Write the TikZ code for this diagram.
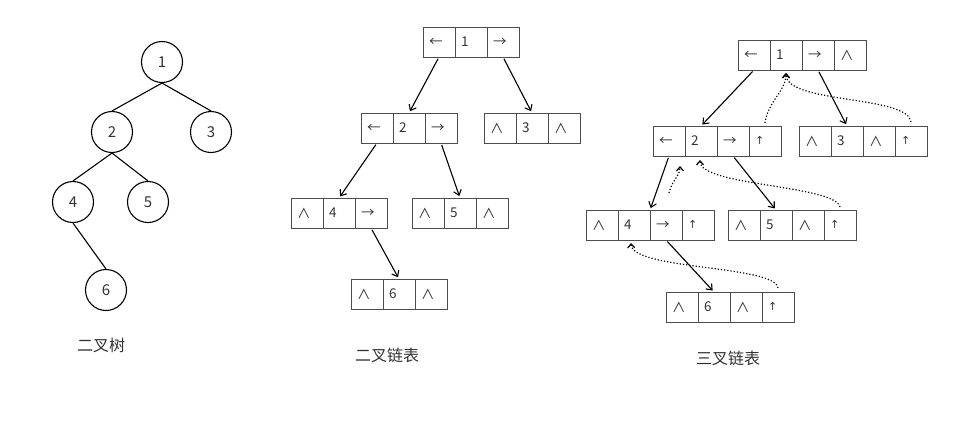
\documentclass[tikz,border=0pt]{standalone}
\usepackage{fontspec}
\setmainfont{Noto Sans CJK SC}
\newfontfamily\symfont{DejaVu Sans}
\usetikzlibrary{arrows.meta,calc}
\tikzset{
  cell/.style={draw=black!70, line width=0.9pt, minimum width=32pt, minimum height=30pt,
    inner sep=0pt, outer sep=0pt, anchor=north west, text width=20pt, align=left,
    font=\fontsize{13.5}{13.5}\selectfont, text=black!80},
  tnode/.style={circle, draw, line width=1.1pt, minimum size=41pt, inner sep=0pt,
    font=\fontsize{15}{15}\selectfont, text=black!80},
  edge/.style={line width=1.1pt},
  ptr/.style={line width=1.1pt, -{Straight Barb[length=5pt,width=8pt]}, shorten <=2pt, shorten >=2pt},
  par/.style={line width=1.2pt, dotted, -{Straight Barb[length=4pt,width=7pt]}},
  caption/.style={font=\fontsize{16}{16}\selectfont, text=black!80}
}
\newcommand\uparr{\raisebox{2pt}{\symfont\fontsize{11}{11}\selectfont ↑}}
\newcommand\rowcells[4]{%
  \foreach \t [count=\i] in {#4} {
    \node[cell] (#1-\i) at ({#2+32*(\i-1)}, #3) {\t};
  }%
}
\begin{document}
\begin{tikzpicture}[x=1pt, y=-1pt]
\useasboundingbox (0,0) rectangle (953,421);

% binary tree
\node[tnode] (c1) at (162,62) {1};
\node[tnode] (c2) at (112,132) {2};
\node[tnode] (c3) at (211,132) {3};
\node[tnode] (c4) at (73,202) {4};
\node[tnode] (c5) at (148,202) {5};
\node[tnode] (c6) at (106,290) {6};
\draw[edge] (c1.south) -- (c2.north);
\draw[edge] (c1.south) -- (c3.north);
\draw[edge] (c2.south) -- (c4.north);
\draw[edge] (c2.south) -- (c5.north);
\draw[edge] (c4.south) -- (c6.north);
\node[caption] (cap1) at (101,345) {二叉树};

% binary linked list
\rowcells{b1}{423}{27}{←,1,→}
\rowcells{b2}{361}{113}{←,2,→}
\rowcells{b3}{484}{113}{∧,3,∧}
\rowcells{b4}{291}{198}{∧,4,→}
\rowcells{b5}{412}{198}{∧,5,∧}
\rowcells{b6}{351}{279}{∧,6,∧}
\draw[ptr] (b1-1.south) -- (b2-2.north);
\draw[ptr] (b1-3.south) -- (b3-2.north);
\draw[ptr] (b2-1.south) -- (b4-2.north);
\draw[ptr] (b2-3.south) -- (b5-2.north);
\draw[ptr] (b4-3.south) -- (b6-2.north);
\node[caption] (cap2) at (387,355) {二叉链表};

% trinary linked list
\rowcells{t1}{738}{40}{←,1,→,∧}
\rowcells{t2}{653}{126}{←,2,→,\uparr}
\rowcells{t3}{799}{126}{∧,3,∧,\uparr}
\rowcells{t4}{586}{210}{∧,4,→,\uparr}
\rowcells{t5}{728}{210}{∧,5,∧,\uparr}
\rowcells{t6}{666}{292}{∧,6,∧,\uparr}
\draw[ptr] (t1-1.south) -- (t2-2.north);
\draw[ptr] (t1-3.south) -- (t3-2.north);
\draw[ptr] (t2-1.south) -- (t4-2.north east);
\draw[ptr] (t2-3.south) -- (t5-2.north);
\draw[ptr] (t4-3.south) -- (t6-2.north);

\coordinate (p1) at ($(t1-2.south)+(0,3)$);
\draw[par] ($(t2-4.north)+(0,-3)$) .. controls ($(t2-4.north)+(3,-25)$) and ($(p1)+(0,18)$) .. (p1);
\draw[par] ($(t3-4.north)+(0,-4)$) .. controls ($(t3-4.north)+(-3,-31)$) and ($(p1)+(0,31)$) .. (p1);
\draw[par] ($(t4-3.north)+(3,-17)$) .. controls ($(t4-3.north)+(6,-30)$) and ($(t2-1.south east)+(-5,20)$) .. ($(t2-1.south east)+(-5,10)$);
\draw[par] ($(t5-4.north)+(0,-3)$) .. controls ($(t5-4.north)+(-5,-25)$) and ($(t2-2.south)+(-1,30)$) .. ($(t2-2.south)+(-1,4)$);
\draw[par] ($(t6-4.north)+(0,-4)$) .. controls ($(t6-4.north)+(-3,-27)$) and ($(t4-2.south)+(-2,30)$) .. ($(t4-2.south)+(-3,3)$);
\node[caption] (cap3) at (728,358) {三叉链表};
\end{tikzpicture}
\end{document}
